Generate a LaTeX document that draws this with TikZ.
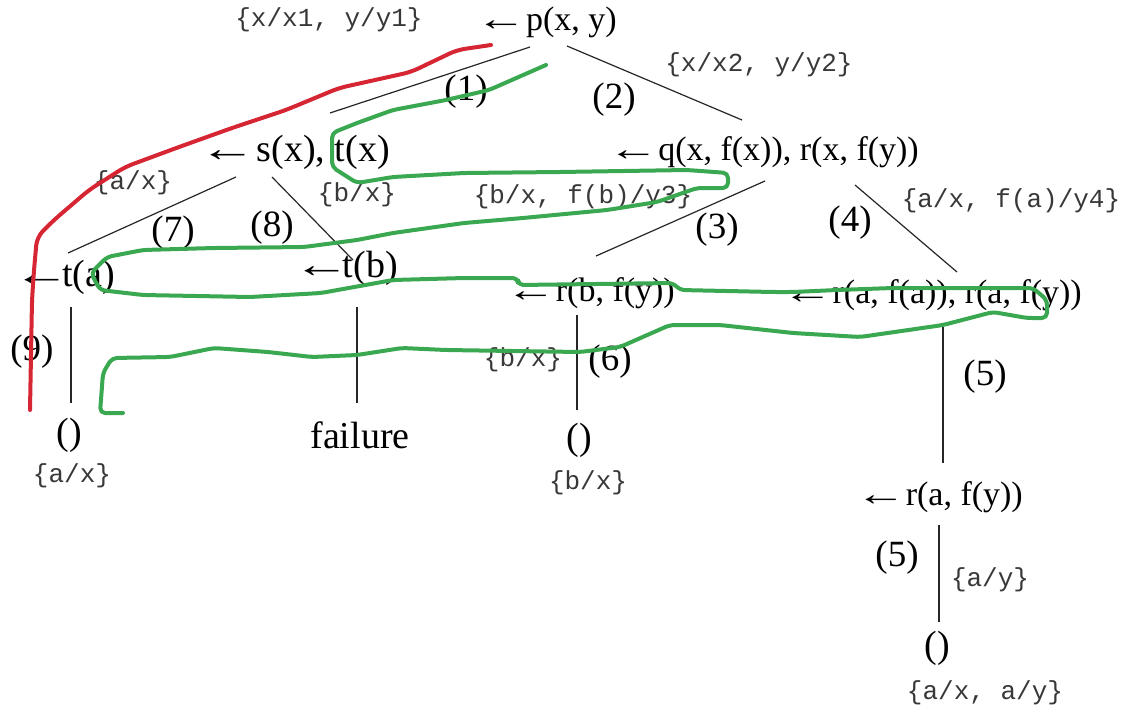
\documentclass[tikz,border=0pt]{standalone}
\usepackage{fontspec}
\usepackage{graphicx}
\setmainfont{Liberation Serif}
\newfontfamily\monof{Liberation Mono}
\definecolor{pathgreen}{RGB}{58,168,80}
\definecolor{pathred}{RGB}{214,38,52}
\newcommand{\la}{\scalebox{1.5}[1]{←}\kern-9pt}
\tikzset{
  goal/.style={inner sep=0pt, font=\fontsize{34}{34}\selectfont},
  biggoal/.style={inner sep=0pt, font=\fontsize{38}{38}\selectfont},
  num/.style={inner sep=0pt, font=\fontsize{37}{37}\selectfont},
  subst/.style={inner sep=0pt, text=black!78, font=\monof\fontsize{26}{26}\selectfont},
  edge/.style={draw=black!85, line width=1.2pt},
  greenpath/.style={draw=pathgreen, line width=4pt, rounded corners=5pt, line join=round, line cap=round},
  redpath/.style={draw=pathred, line width=4pt, rounded corners=8pt, line join=round, line cap=round}
}
\begin{document}
\begin{tikzpicture}[x=1pt,y=-1pt]
\useasboundingbox (0,0) rectangle (1130,710);
\fill[white] (0,0) rectangle (1130,710);

% goal nodes
\node[goal, anchor=east] (pxy) at (617,22) {\la\ p(x, y)};
\node[biggoal, anchor=east] (sxtx) at (390,152) {\la\ s(x), t(x)};
\node[goal, anchor=east] (qr) at (919,152) {\la\ q(x, f(x)), r(x, f(y))};
\node[biggoal, anchor=east] (ta) at (115,277) {\la\kern1pt t(a)};
\node[biggoal, anchor=east] (tb) at (398,268) {\la\kern1pt t(b)};
\node[goal, anchor=east] (rb) at (675,293) {\la\ r(b, f(y))};
\node[goal, anchor=east] (raa) at (1082,295) {\la\ r(a, f(a)), r(a, f(y))};
\node[biggoal] (e1) at (69,435) {()};
\node[biggoal] (fail) at (360,435) {failure};
\node[biggoal] (e2) at (579,440) {()};
\node[goal, anchor=east] (ray) at (1023,497) {\la\ r(a, f(y))};
\node[biggoal] (e3) at (937,648) {()};

% edge end points
\coordinate (c1a) at (530,47);  \coordinate (c1b) at (330,113);
\coordinate (c2a) at (567,46);  \coordinate (c2b) at (742,120);
\coordinate (c7a) at (236,177); \coordinate (c7b) at (68,253);
\coordinate (c8a) at (272,177); \coordinate (c8b) at (353,260);
\coordinate (c3a) at (765,181); \coordinate (c3b) at (596,256);
\coordinate (c4a) at (855,185); \coordinate (c4b) at (957,272);
\coordinate (c9a) at (71,307);  \coordinate (c9b) at (71,403);
\coordinate (cfa) at (357,307); \coordinate (cfb) at (357,403);
\coordinate (c6a) at (577,315); \coordinate (c6b) at (577,410);
\coordinate (c5a) at (943,327); \coordinate (c5b) at (943,463);
\coordinate (c5c) at (939,525); \coordinate (c5d) at (939,622);

\draw[edge] (c1a) -- (c1b);
\draw[edge] (c2a) -- (c2b);
\draw[edge] (c7a) -- (c7b);
\draw[edge] (c8a) -- (c8b);
\draw[edge] (c3a) -- (c3b);
\draw[edge] (c4a) -- (c4b);
\draw[edge] (c9a) -- (c9b);
\draw[edge] (cfa) -- (cfb);
\draw[edge] (c6a) -- (c6b);
\draw[edge] (c5a) -- (c5b);
\draw[edge] (c5c) -- (c5d);

% branch numbers
\node[num] (n1) at (466,92) {(1)};
\node[num] (n2) at (614,100) {(2)};
\node[num] (n3) at (717,230) {(3)};
\node[num] (n4) at (850,223) {(4)};
\node[num] (n5) at (985,377) {(5)};
\node[num] (n5b) at (897,558) {(5)};
\node[num] (n6) at (610,362) {(6)};
\node[num] (n7) at (173,233) {(7)};
\node[num] (n8) at (272,228) {(8)};
\node[num] (n9) at (32,352) {(9)};

% substitutions
\node[subst] (s1) at (329,20) {\{x/x1, y/y1\}};
\node[subst] (s2) at (759,65) {\{x/x2, y/y2\}};
\node[subst] (s3) at (133,183) {\{a/x\}};
\node[subst] (s4) at (357,195) {\{b/x\}};
\node[subst] (s5) at (583,197) {\{b/x, f(b)/y3\}};
\node[subst] (s6) at (1011,201) {\{a/x, f(a)/y4\}};
\node[subst] (s7) at (523,360) {\{b/x\}};
\node[subst] (s8) at (72,476) {\{a/x\}};
\node[subst] (s9) at (588,483) {\{b/x\}};
\node[subst] (s10) at (990,580) {\{a/y\}};
\node[subst] (s11) at (985,693) {\{a/x, a/y\}};

% red search path
\draw[redpath] (491,45) -- (457,50) -- (411,72) -- (339,88) -- (286,110) -- (232,128)
  -- (179,147) -- (125,167) -- (89,190) -- (54,220) -- (37,237) -- (34,270) -- (32,300) -- (30,410);

% green search path
\draw[greenpath] (546,65) -- (489,90) -- (446,100) -- (393,110) -- (357,123) -- (332,133)
  -- (332,167) -- (357,183) -- (393,177) -- (464,173) -- (560,172) -- (687,170) -- (728,173)
  -- (728,188) -- (697,188) -- (657,202) -- (607,210) -- (523,218) -- (464,223) -- (393,233)
  -- (357,240) -- (304,247) -- (214,248) -- (143,250) -- (107,257) -- (91,273) -- (100,290)
  -- (143,295) -- (250,297) -- (321,293) -- (393,280) -- (464,278) -- (518,278) -- (518,285)
  -- (673,283) -- (680,290) -- (773,292) -- (793,292) -- (837,290) -- (893,288) -- (1033,288)
  -- (1047,300) -- (1047,318) -- (1027,318) -- (993,312) -- (943,325) -- (860,337) -- (793,333)
  -- (720,325) -- (670,325) -- (620,347) -- (580,352) -- (446,350) -- (402,348) -- (357,355)
  -- (312,357) -- (268,352) -- (214,348) -- (170,357) -- (112,358) -- (103,373) -- (100,413)
  -- (123,413);
\end{tikzpicture}
\end{document}
